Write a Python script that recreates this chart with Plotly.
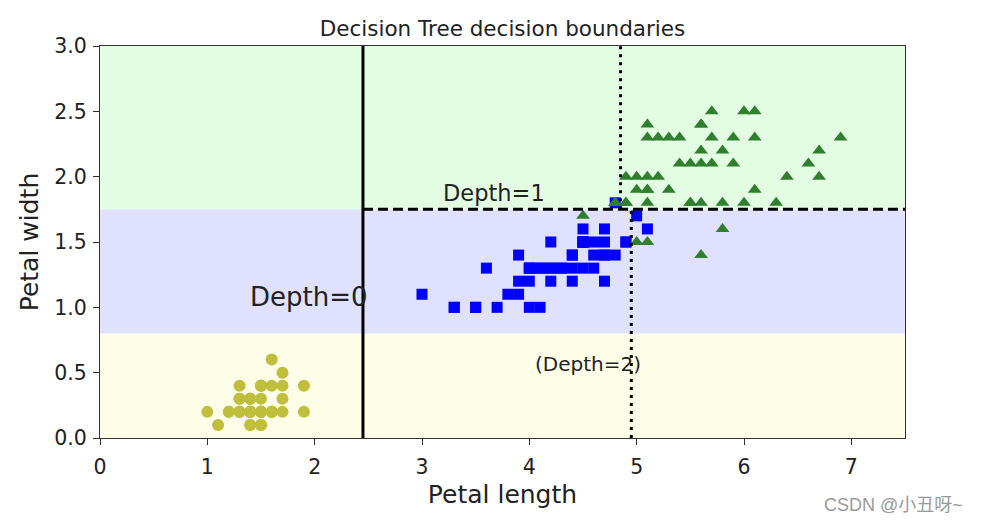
import plotly.graph_objects as go

# ---- data (iris petal length / width) ----
setosa_len = [1.4,1.4,1.3,1.5,1.4,1.7,1.4,1.5,1.4,1.5,1.5,1.6,1.4,1.1,1.2,1.5,1.3,1.4,1.7,1.5,
              1.7,1.5,1.0,1.7,1.9,1.6,1.6,1.5,1.4,1.6,1.6,1.5,1.5,1.4,1.5,1.2,1.3,1.4,1.3,1.5,
              1.3,1.3,1.3,1.6,1.9,1.4,1.6,1.4,1.5,1.4]
setosa_wid = [0.2,0.2,0.2,0.2,0.2,0.4,0.3,0.2,0.2,0.1,0.2,0.2,0.1,0.1,0.2,0.4,0.4,0.3,0.3,0.3,
              0.2,0.4,0.2,0.5,0.2,0.2,0.4,0.2,0.2,0.2,0.2,0.4,0.1,0.2,0.2,0.2,0.2,0.1,0.2,0.2,
              0.3,0.3,0.2,0.6,0.4,0.3,0.2,0.2,0.2,0.2]
versi_len = [4.7,4.5,4.9,4.0,4.6,4.5,4.7,3.3,4.6,3.9,3.5,4.2,4.0,4.7,3.6,4.4,4.5,4.1,4.5,3.9,
             4.8,4.0,4.9,4.7,4.3,4.4,4.8,5.0,4.5,3.5,3.8,3.7,3.9,5.1,4.5,4.5,4.7,4.4,4.1,4.0,
             4.4,4.6,4.0,3.3,4.2,4.2,4.2,4.3,3.0,4.1]
versi_wid = [1.4,1.5,1.5,1.3,1.5,1.3,1.6,1.0,1.3,1.4,1.0,1.5,1.0,1.4,1.3,1.4,1.5,1.0,1.5,1.1,
             1.8,1.3,1.5,1.2,1.3,1.4,1.4,1.7,1.5,1.0,1.1,1.0,1.2,1.6,1.5,1.6,1.5,1.3,1.3,1.3,
             1.2,1.4,1.2,1.0,1.3,1.2,1.3,1.3,1.1,1.3]
virg_len = [6.0,5.1,5.9,5.6,5.8,6.6,4.5,6.3,5.8,6.1,5.1,5.3,5.5,5.0,5.1,5.3,5.5,6.7,6.9,5.0,
            5.7,4.9,6.7,4.9,5.7,6.0,4.8,4.9,5.6,5.8,6.1,6.4,5.6,5.1,5.6,6.1,5.6,5.5,4.8,5.4,
            5.6,5.1,5.1,5.9,5.7,5.2,5.0,5.2,5.4,5.1]
virg_wid = [2.5,1.9,2.1,1.8,2.2,2.1,1.7,1.8,1.8,2.5,2.0,1.9,2.1,2.0,2.4,2.3,1.8,2.2,2.3,1.5,
            2.3,2.0,2.0,1.8,2.1,1.8,1.8,1.8,2.1,1.6,1.9,2.0,2.2,1.5,1.4,2.3,2.4,1.8,1.8,2.1,
            2.4,2.3,1.9,2.3,2.5,2.3,1.9,2.0,2.3,1.8]

# decision regions (horizontal bands of the background)
band_edges = [0.0, 0.8, 1.75, 3.0]
band_colors = ["#fefee8", "#e0e0ff", "#e3fde3"]

# split lines
root_split = 2.45
depth1_split = 1.75
depth2_split_low = 4.95
depth2_split_high = 4.85
x_max = 7.5
y_max = 3.0

x_ticks = [0, 1, 2, 3, 4, 5, 6, 7]
y_ticks = [0.0, 0.5, 1.0, 1.5, 2.0, 2.5, 3.0]

FONT = "DejaVu Sans"

fig = go.Figure()

# background bands
for i, c in enumerate(band_colors):
    fig.add_shape(type="rect", xref="x", yref="y", x0=0, x1=x_max,
                  y0=band_edges[i], y1=band_edges[i + 1],
                  fillcolor=c, line=dict(width=0), layer="below")

fig.add_trace(go.Scatter(x=setosa_len, y=setosa_wid, mode="markers",
                         marker=dict(symbol="circle", size=12, color="#bfbf3c"),
                         showlegend=False))
fig.add_trace(go.Scatter(x=versi_len, y=versi_wid, mode="markers",
                         marker=dict(symbol="square", size=11, color="#0000ff"),
                         showlegend=False))
fig.add_trace(go.Scatter(x=virg_len, y=virg_wid, mode="markers",
                         marker=dict(symbol="triangle-up", size=12, color="#2f7f2f"),
                         showlegend=False))

# split lines
fig.add_trace(go.Scatter(x=[root_split, root_split], y=[0, y_max], mode="lines",
                         line=dict(color="black", width=3), showlegend=False))
fig.add_trace(go.Scatter(x=[root_split, x_max], y=[depth1_split, depth1_split], mode="lines",
                         line=dict(color="black", width=3, dash="10px,5px"), showlegend=False))
fig.add_trace(go.Scatter(x=[depth2_split_low, depth2_split_low], y=[0, depth1_split], mode="lines",
                         line=dict(color="black", width=3, dash="3px,5px"), showlegend=False))
fig.add_trace(go.Scatter(x=[depth2_split_high, depth2_split_high], y=[depth1_split, y_max], mode="lines",
                         line=dict(color="black", width=3, dash="3px,5px"), showlegend=False))

# text labels (left aligned, anchored at baseline)
labels = [("Depth=0", 1.40, 1.0, 26), ("Depth=1", 3.2, 1.80, 22.5), ("(Depth=2)", 4.05, 0.5, 20)]
for txt, x, y, fs in labels:
    fig.add_annotation(x=x, y=y, xref="x", yref="y", text=txt, showarrow=False,
                       xanchor="left", yanchor="bottom", yshift=-0.25 * fs, xshift=-2,
                       font=dict(family=FONT, size=fs, color="#222222"))

# page has an 8px body margin, so figure coords = screen coords - 8
OFF = 8
W, H = 982, 524
L, R, T, B = 100 - OFF, 77 + OFF, 46 - OFF, 86 + OFF
PW, PH = W - L - R, H - T - B

fig.add_annotation(x=(965 - OFF - L) / PW, y=-(505 - OFF - (H - B)) / PH, xref="paper", yref="paper",
                   text="CSDN @小丑呀~", showarrow=False, xanchor="right", yanchor="middle",
                   font=dict(family="Liberation Sans, Noto Sans CJK SC", size=18, color="#9a9a9a"))

fig.update_layout(
    width=W, height=H,
    margin=dict(l=L, r=R, t=T, b=B),
    plot_bgcolor="white", paper_bgcolor="white",
    title=dict(text="Decision Tree decision boundaries", x=(L + PW / 2) / W, xanchor="center",
               y=1 - (28 - OFF) / H, yanchor="middle", yref="container",
               font=dict(family=FONT, size=21.5, color="#222222")),
    font=dict(family=FONT, color="#222222"),
)

fig.update_xaxes(range=[0, x_max], tickvals=x_ticks, ticktext=[str(v) for v in x_ticks],
                 showgrid=False, zeroline=False, showline=True, linecolor="#333333", linewidth=1.3,
                 mirror=True, ticks="outside", ticklen=6, tickcolor="#333333", ticklabelstandoff=4,
                 tickfont=dict(family=FONT, size=20.5, color="#222222"),
                 title=dict(text="Petal length", standoff=7, font=dict(family=FONT, size=25, color="#222222")))
fig.update_yaxes(range=[0, y_max], tickvals=y_ticks, ticktext=[f"{v:.1f}" for v in y_ticks],
                 showgrid=False, zeroline=False, showline=True, linecolor="#333333", linewidth=1.3,
                 mirror=True, ticks="outside", ticklen=6, tickcolor="#333333", ticklabelstandoff=2,
                 tickfont=dict(family=FONT, size=20.5, color="#222222"),
                 title=dict(text="Petal width", standoff=8, font=dict(family=FONT, size=25, color="#222222")))

fig.write_html("out.html")
